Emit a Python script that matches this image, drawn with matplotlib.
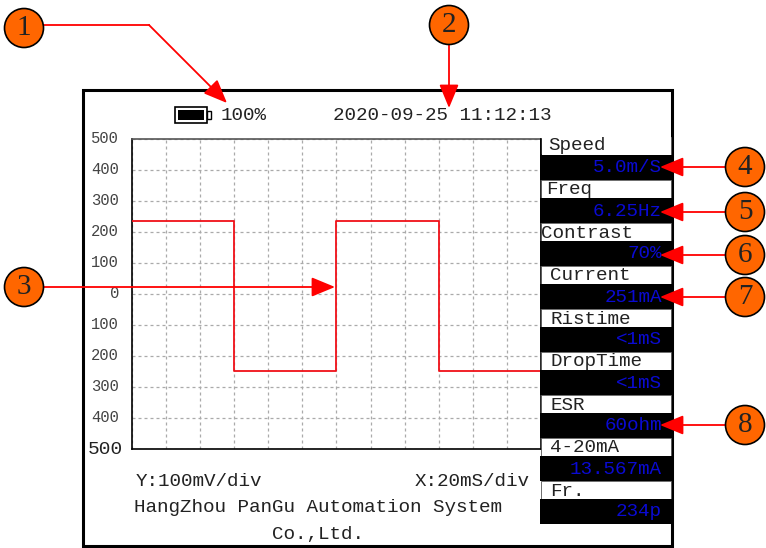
import matplotlib
matplotlib.use('Agg')
import matplotlib.pyplot as plt
from matplotlib.patches import Rectangle, Circle

plt.rcParams['font.family'] = ['Liberation Mono', 'DejaVu Sans']

# waveform
time_ms = [0, 60, 120, 180, 240]
voltage_mv = [235, -248, 235, -248, -248]
y_ticks = [-500, -400, -300, -200, -100, 0, 100, 200, 300, 400, 500]
y_labels = ['', '400', '300', '200', '100', '0', '100', '200', '300', '400', '500']
x_ticks = list(range(0, 241, 20))

# side panel
panel_names = ['Speed', 'Freq', 'Contrast', 'Current', 'Ristime', 'DropTime', 'ESR', '4-20mA', 'Fr.']
panel_values = ['5.0m/S', '6.25Hz', '70%', '251mA', '<1mS', '<1mS', '60ohm', '13.567mA', '234p']
panel_name_x = [548, 546, 541, 550, 550, 550, 550, 550, 550]
panel_tops = [137, 180, 223, 266, 309, 352, 395, 438, 481]

W, H = 766, 548
fig = plt.figure(figsize=(W / 100, H / 100), dpi=100)

# overlay in pixel coordinates
ov = fig.add_axes([0, 0, 1, 1], zorder=1)
ov.set_xlim(0, W)
ov.set_ylim(H, 0)
ov.axis('off')

ov.add_patch(Rectangle((83, 90), 589, 456, fc='white', ec='black', lw=2.2))

# plot area
ax = fig.add_axes([132 / W, 1 - 449 / H, 409 / W, 310 / H], zorder=2)
ax.set_xlim(0, 240)
ax.set_ylim(-500, 500)
ax.step(time_ms, voltage_mv, where='post', color='#f01018', lw=1.3, zorder=3)
ax.set_xticks(x_ticks)
ax.set_yticks(y_ticks)
ax.set_yticklabels(y_labels, fontsize=11.2, color='#444444', va='center')
ax.tick_params(length=0, labelbottom=False, pad=9.5)
ax.grid(True, color='#aaaaaa', ls=(0, (2.4, 2.4)), lw=0.9)
ax.set_axisbelow(True)
for s in ax.spines.values():
    s.set_linewidth(1.2)
    s.set_color('black')
ax.spines['top'].set_color('#555555')

# top pane on overlay for panel and callouts
top = fig.add_axes([0, 0, 1, 1], zorder=3)
top.set_xlim(0, W)
top.set_ylim(H, 0)
top.axis('off')
top.patch.set_alpha(0)

TXT = 13.9
for i, name in enumerate(panel_names):
    t = panel_tops[i]
    top.add_patch(Rectangle((541, t), 130, 18, fc='white', ec='#555555', lw=0.6, zorder=2))
    top.add_patch(Rectangle((540, t + 18), 133, 25, fc='black', ec='none', zorder=3))
    top.text(panel_name_x[i], t + 10, name, fontsize=TXT, color='#222222', va='center', ha='left', zorder=4)
    top.text(662, t + 31, panel_values[i], fontsize=TXT, color='#0a0ad2', va='center', ha='right', zorder=4)
# Speed label sits on the frame without its box
top.add_patch(Rectangle((541, 130), 130, 24, fc='white', ec='none', zorder=2.5))
top.texts[0].set_y(146)
top.plot([541, 541], [139, 155], color='black', lw=1.2, zorder=3)

top.text(123, 449, '500', fontsize=14, color='#222222', va='center', ha='right')
top.text(333, 116, '2020-09-25 11:12:13', fontsize=TXT, color='#222222', va='center')
top.text(221, 116, '100%', fontsize=TXT, color='#222222', va='center')
top.text(136, 481, 'Y:100mV/div', fontsize=TXT, color='#222222', va='center')
top.text(415, 481, 'X:20mS/div', fontsize=TXT, color='#222222', va='center')
top.text(134, 508, 'HangZhou PanGu Automation System', fontsize=TXT, color='#222222', va='center')
top.text(272, 535, 'Co.,Ltd.', fontsize=TXT, color='#222222', va='center')

# battery
top.add_patch(Rectangle((175, 107), 32, 16, fc='white', ec='black', lw=1.2))
top.add_patch(Rectangle((178, 110), 26, 10, fc='black', ec='none'))
top.add_patch(Rectangle((207, 111), 4, 8, fc='white', ec='black', lw=1))

# callouts
RED = '#ff0000'
def arrow(x0, y0, x1, y1):
    top.annotate('', xy=(x1, y1), xytext=(x0, y0), zorder=6,
                 arrowprops=dict(arrowstyle='-|>,head_length=1.45,head_width=0.6', color=RED, lw=1.3,
                                 shrinkA=0, shrinkB=0))

top.plot([43, 149], [25, 25], color=RED, lw=1.3, zorder=6)
arrow(149, 25, 227, 103)
arrow(449, 45, 449, 108)
arrow(43, 287, 335, 287)
for yy in [167, 212, 255, 297, 425]:
    arrow(725, yy, 660, yy)

circles = [('1', 24, 28), ('2', 449, 25), ('3', 24, 287), ('4', 745, 167),
           ('5', 745, 212), ('6', 745, 255), ('7', 745, 297), ('8', 745, 425)]
for label, cx, cy in circles:
    top.add_patch(Circle((cx, cy), 19.5, fc='#ff6600', ec='black', lw=1.2, zorder=7))
    top.text(cx, cy, label, fontsize=21, color='#222222', ha='center', va='center', zorder=8,
             family=['Liberation Serif', 'DejaVu Sans'])

fig.savefig('out.png', dpi=100)
